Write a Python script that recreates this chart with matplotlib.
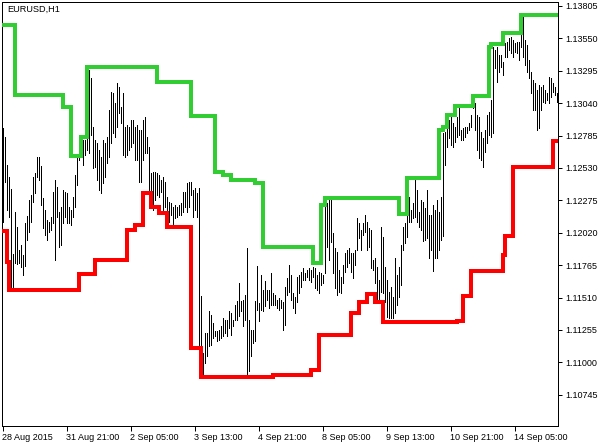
import matplotlib
matplotlib.use("Agg")
import matplotlib.pyplot as plt
import numpy as np

# H1 bars, 28 Aug 2015 .. 14 Sep 2015 (high / low per bar)
bar_high = [
    1.12845, 1.12774, 1.12554, 1.12459, 1.12364, 1.11853, 1.12183, 1.12066, 1.11884, 1.11924,
    1.11845, 1.12097, 1.12152, 1.12278, 1.12318, 1.12459, 1.12490, 1.12616, 1.12616, 1.12546,
    1.12294, 1.12199, 1.12121, 1.12105, 1.12144, 1.12341, 1.12435, 1.12380, 1.12183, 1.12223,
    1.12357, 1.12341, 1.12333, 1.12223, 1.12199, 1.12302, 1.12475, 1.12632, 1.12726, 1.12790,
    1.12750, 1.12750, 1.12829, 1.13301, 1.13238, 1.12853, 1.12750, 1.12726, 1.12671, 1.12616,
    1.12750, 1.12726, 1.12774, 1.12986, 1.13128, 1.13120, 1.13041, 1.13198, 1.13167, 1.13010,
    1.13120, 1.12853, 1.12869, 1.12853, 1.12908, 1.12908, 1.12853, 1.12869, 1.12829, 1.12829,
    1.12908, 1.12931, 1.12774, 1.12695, 1.12490, 1.12498, 1.12498, 1.12490, 1.12475, 1.12435,
    1.12459, 1.12419, 1.12302, 1.12262, 1.12254, 1.12223, 1.12239, 1.12223, 1.12239, 1.12254,
    1.12341, 1.12341, 1.12411, 1.12419, 1.12419, 1.12357, 1.12372, 1.12333, 1.12372, 1.11523,
    1.11073, 1.11231, 1.11231, 1.11404, 1.11373, 1.11310, 1.11247, 1.11247, 1.11255, 1.11287,
    1.11349, 1.11334, 1.11334, 1.11404, 1.11388, 1.11334, 1.11452, 1.11483, 1.11624, 1.11483,
    1.11491, 1.11531, 1.11900, 1.11334, 1.11255, 1.11255, 1.11483, 1.11759, 1.11467, 1.11688,
    1.11570, 1.11640, 1.11570, 1.11570, 1.11703, 1.11546, 1.11531, 1.11491, 1.11507, 1.11491,
    1.11475, 1.11593, 1.11664, 1.11767, 1.11688, 1.11546, 1.11515, 1.11672, 1.11688, 1.11711,
    1.11743, 1.11703, 1.11727, 1.11743, 1.11727, 1.11751, 1.11743, 1.11688, 1.11711, 1.11703,
    1.11688, 1.12239, 1.12254, 1.12278, 1.12278, 1.12018, 1.11900, 1.11868, 1.11727, 1.11672,
    1.11767, 1.11860, 1.11884, 1.11900, 1.11860, 1.11860, 1.11884, 1.12136, 1.12097, 1.12042,
    1.12097, 1.12160, 1.12105, 1.12058, 1.12042, 1.11806, 1.11821, 1.11751, 1.11648, 1.12066,
    1.11987, 1.11751, 1.11648, 1.11554, 1.11593, 1.11515, 1.11821, 1.11688, 1.11751, 1.11924,
    1.12066, 1.12097, 1.12160, 1.12302, 1.12199, 1.12254, 1.12451, 1.12357, 1.12183, 1.12278,
    1.12262, 1.12215, 1.12357, 1.12160, 1.12160, 1.12239, 1.12199, 1.12278, 1.12183, 1.12302,
    1.12805, 1.12813, 1.12845, 1.12908, 1.12931, 1.12884, 1.12853, 1.12931, 1.13002, 1.12829,
    1.12845, 1.12853, 1.12853, 1.12884, 1.12947, 1.13089, 1.13041, 1.12947, 1.12931, 1.12813,
    1.12766, 1.12829, 1.12947, 1.12970, 1.13065, 1.13482, 1.13458, 1.13482, 1.13419, 1.13419,
    1.13364, 1.13513, 1.13521, 1.13553, 1.13561, 1.13537, 1.13513, 1.13521, 1.13521, 1.13656,
    1.13718, 1.13537, 1.13498, 1.13380, 1.13285, 1.13222, 1.13198, 1.13144, 1.13183, 1.13167,
    1.13183, 1.13144, 1.13120, 1.13246, 1.13238, 1.13198, 1.13167, 1.13120,
]
bar_low = [
    1.12105, 1.12419, 1.12199, 1.12144, 1.11585, 1.11585, 1.11782, 1.11775, 1.11782, 1.11751,
    1.11688, 1.11759, 1.11963, 1.12026, 1.12105, 1.12262, 1.12333, 1.12459, 1.12435, 1.12239,
    1.12058, 1.12003, 1.11963, 1.12026, 1.12042, 1.12097, 1.11806, 1.12144, 1.11908, 1.11924,
    1.12097, 1.12144, 1.12097, 1.12097, 1.12082, 1.12144, 1.12223, 1.12396, 1.12593, 1.12616,
    1.12554, 1.12632, 1.12671, 1.12647, 1.12790, 1.12530, 1.12538, 1.12435, 1.12357, 1.12333,
    1.12411, 1.12459, 1.12569, 1.12616, 1.12726, 1.12805, 1.12774, 1.12853, 1.12962, 1.12884,
    1.12632, 1.12616, 1.12632, 1.12671, 1.12695, 1.12726, 1.12593, 1.12593, 1.12419, 1.12419,
    1.12593, 1.12647, 1.12647, 1.12341, 1.12223, 1.12199, 1.12278, 1.12318, 1.12302, 1.12341,
    1.12175, 1.12223, 1.12183, 1.12105, 1.12160, 1.12066, 1.12136, 1.12144, 1.12160, 1.12160,
    1.12183, 1.12223, 1.12183, 1.12223, 1.12318, 1.12144, 1.12199, 1.12144, 1.10877, 1.10901,
    1.10893, 1.10995, 1.11050, 1.11129, 1.11137, 1.11192, 1.11208, 1.11168, 1.11176, 1.11192,
    1.11208, 1.11231, 1.11208, 1.11271, 1.11216, 1.11287, 1.11334, 1.11334, 1.11365, 1.11404,
    1.11287, 1.11334, 1.10893, 1.10932, 1.11050, 1.11152, 1.11168, 1.11412, 1.11326, 1.11412,
    1.11404, 1.11444, 1.11491, 1.11428, 1.11452, 1.11452, 1.11452, 1.11428, 1.11412, 1.11428,
    1.11255, 1.11295, 1.11531, 1.11554, 1.11491, 1.11428, 1.11388, 1.11475, 1.11546, 1.11593,
    1.11648, 1.11648, 1.11672, 1.11648, 1.11632, 1.11672, 1.11585, 1.11570, 1.11546, 1.11609,
    1.11624, 1.11703, 1.11908, 1.11806, 1.11947, 1.11703, 1.11585, 1.11531, 1.11554, 1.11546,
    1.11624, 1.11711, 1.11751, 1.11782, 1.11711, 1.11664, 1.11767, 1.11884, 1.11979, 1.11884,
    1.12003, 1.12026, 1.11884, 1.11908, 1.11743, 1.11727, 1.11624, 1.11467, 1.11467, 1.11554,
    1.11546, 1.11475, 1.11357, 1.11349, 1.11349, 1.11349, 1.11388, 1.11452, 1.11515, 1.11609,
    1.11884, 1.11939, 1.11987, 1.12105, 1.12105, 1.12136, 1.12144, 1.12105, 1.12066, 1.12042,
    1.11955, 1.11963, 1.11979, 1.11821, 1.11884, 1.11719, 1.11821, 1.11821, 1.11884, 1.11963,
    1.11995, 1.12554, 1.12695, 1.12766, 1.12711, 1.12695, 1.12734, 1.12774, 1.12790, 1.12750,
    1.12750, 1.12774, 1.12805, 1.12829, 1.12853, 1.13002, 1.12829, 1.12671, 1.12608, 1.12593,
    1.12538, 1.12655, 1.12726, 1.12790, 1.12774, 1.12805, 1.13317, 1.13206, 1.13285, 1.13325,
    1.13262, 1.13403, 1.13403, 1.13458, 1.13434, 1.13403, 1.13442, 1.13434, 1.13380, 1.13482,
    1.13403, 1.13341, 1.13285, 1.13238, 1.13120, 1.12986, 1.12986, 1.12829, 1.12845, 1.12986,
    1.13049, 1.13041, 1.13065, 1.13041, 1.13089, 1.13128, 1.13105, 1.13049,
]

# upper channel line (green): bar where a level starts, and the level
green_start = [0, 6, 30, 34, 39, 42, 77, 94, 106, 110, 114, 126, 130, 155, 159, 161,
               198, 202, 218, 220, 222, 226, 235, 243, 244, 250, 259]
green_level = [1.13656, 1.13105, 1.13010, 1.12624, 1.12774, 1.13325, 1.13206, 1.12939,
               1.12498, 1.12475, 1.12435, 1.12411, 1.11908, 1.11782, 1.12239, 1.12294,
               1.12168, 1.12451, 1.12829, 1.12853, 1.12947, 1.13018, 1.13097, 1.13482,
               1.13506, 1.13592, 1.13734]

# lower channel line (red)
red_start = [0, 2, 3, 38, 46, 62, 66, 70, 74, 78, 82, 94, 99, 135, 154, 158, 174, 178,
             182, 186, 190, 227, 230, 234, 250, 251, 255, 275]
red_level = [1.12034, 1.11790, 1.11570, 1.11696, 1.11806, 1.12042, 1.12082, 1.12333,
             1.12223, 1.12175, 1.12066, 1.11113, 1.10885, 1.10901, 1.10940, 1.11216,
             1.11388, 1.11475, 1.11539, 1.11475, 1.11318, 1.11326, 1.11523, 1.11719,
             1.11845, 1.11995, 1.12538, 1.12742]

price_ticks = [1.13805, 1.13550, 1.13295, 1.13040, 1.12785, 1.12530, 1.12275,
               1.12020, 1.11765, 1.11510, 1.11255, 1.11000, 1.10745]
time_tick_bars = [0, 32, 64, 96, 128, 160, 192, 224, 256]
time_tick_labels = ['28 Aug 2015', '31 Aug 21:00', '2 Sep 05:00', '3 Sep 13:00',
                    '4 Sep 21:00', '8 Sep 05:00', '9 Sep 13:00', '10 Sep 21:00',
                    '14 Sep 05:00']


def plot_price_channel():
    """MetaTrader style bar chart with a price channel"""
    plt.rcParams['font.family'] = ['Liberation Sans', 'DejaVu Sans']

    W, H = 610, 446
    fig = plt.figure(figsize=(W / 100, H / 100), dpi=100)
    fig.patch.set_facecolor('white')
    ax = fig.add_axes([2 / W, 20 / H, 556 / W, 424 / H])

    px = 0.72  # one pixel in points
    n = len(bar_high)
    idx = np.arange(n)

    # bars
    ax.vlines(idx, bar_low, bar_high, colors='black', linewidth=px,
              antialiased=False, zorder=2)

    # channel lines
    last = n - 0.5
    ax.step(green_start + [last], green_level + [green_level[-1]], where='post',
            color='#32cd32', linewidth=4 * px, solid_joinstyle='miter', zorder=3)
    ax.step(red_start + [last], red_level + [red_level[-1]], where='post',
            color='#ff0000', linewidth=4 * px, solid_joinstyle='miter', zorder=3)

    ax.set_xlim(-0.25, 277.75)
    ax.set_ylim(1.10499, 1.13836)

    # price scale on the right
    ax.yaxis.tick_right()
    ax.set_yticks(price_ticks)
    ax.set_yticklabels([f'{p:.5f}' for p in price_ticks])
    ax.tick_params(axis='y', direction='out', length=4 * px, width=px, pad=2.5,
                   labelsize=6.5, colors='black')

    # time scale, labels start at the tick
    ax.set_xticks(time_tick_bars)
    ax.set_xticklabels(time_tick_labels, ha='left')
    ax.tick_params(axis='x', direction='out', length=5 * px, width=px, pad=1.5,
                   labelsize=6.5, colors='black')

    for sp in ax.spines.values():
        sp.set_linewidth(px)
        sp.set_color('black')

    ax.text(5 / 556, 1 - 3 / 424, 'EURUSD,H1', transform=ax.transAxes,
            ha='left', va='top', fontsize=6.6, color='black')

    fig.savefig('out.png', dpi=100, facecolor='white')


if __name__ == "__main__":
    plot_price_channel()
